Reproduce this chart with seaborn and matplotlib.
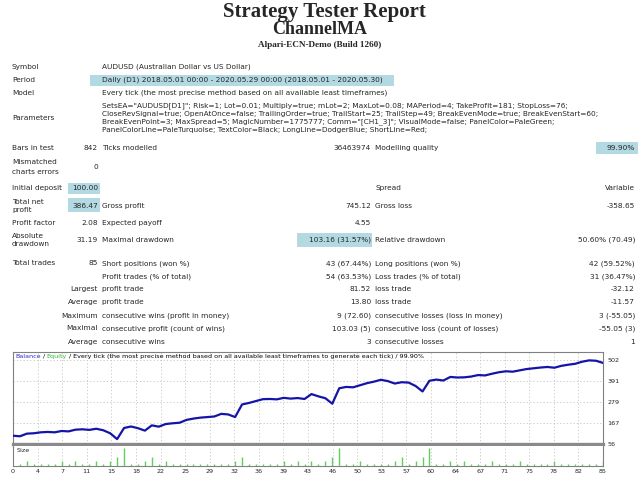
import numpy as np
import matplotlib
matplotlib.use("Agg")
import matplotlib.pyplot as plt
import seaborn as sns
from matplotlib.patches import Rectangle

# balance after each trade, index 0 = initial deposit
balance = [100, 97, 111, 113, 118, 120, 118, 125, 123, 132, 134, 131, 137, 129, 113, 82,
           141, 149, 140, 127, 155, 148, 162, 166, 169, 184, 191, 196, 199, 202, 216, 213,
           199, 266, 274, 284, 294, 295, 293, 301, 297, 300, 295, 321, 309, 299, 270, 352,
           359, 357, 368, 379, 387, 397, 390, 377, 384, 382, 364, 335, 392, 398, 393, 412,
           409, 410, 414, 422, 420, 429, 437, 442, 440, 447, 454, 458, 462, 465, 461, 471,
           477, 482, 493, 500, 498, 486.47]

# lot size of trades 1..85
lots = [0.01, 0.02, 0.01, 0.01, 0.01, 0.01, 0.02, 0.01, 0.02, 0.01,
        0.01, 0.02, 0.01, 0.02, 0.04, 0.08, 0.01, 0.01, 0.02, 0.04,
        0.01, 0.02, 0.01, 0.01, 0.01, 0.01, 0.01, 0.01, 0.01, 0.01,
        0.01, 0.02, 0.04, 0.01, 0.01, 0.01, 0.01, 0.01, 0.02, 0.01,
        0.02, 0.01, 0.02, 0.01, 0.02, 0.04, 0.08, 0.01, 0.01, 0.02,
        0.01, 0.01, 0.01, 0.01, 0.02, 0.04, 0.01, 0.02, 0.04, 0.08,
        0.01, 0.01, 0.02, 0.01, 0.02, 0.01, 0.01, 0.01, 0.02, 0.01,
        0.01, 0.01, 0.02, 0.01, 0.01, 0.01, 0.01, 0.02, 0.01, 0.01,
        0.01, 0.01, 0.01, 0.01, 0.02]

x_labels = ["0", "4", "7", "11", "15", "18", "22", "25", "29", "32", "36", "39", "43",
            "46", "50", "53", "57", "60", "64", "67", "71", "75", "78", "82", "85"]
y_labels = ["56", "167", "279", "391", "502"]

params = [
    'SetsEA="AUDUSD[D1]"; Risk=1; Lot=0.01; Multiply=true; mLot=2; MaxLot=0.08; MAPeriod=4; TakeProfit=181; StopLoss=76;',
    'CloseRevSignal=true; OpenAtOnce=false; TrailingOrder=true; TrailStart=25; TrailStep=49; BreakEvenMode=true; BreakEvenStart=60;',
    'BreakEvenPoint=3; MaxSpread=5; MagicNumber=1775777; Comm="[CH1_3]"; VisualMode=false; PanelColor=PaleGreen;',
    'PanelColorLine=PaleTurquoise; TextColor=Black; LongLine=DodgerBlue; ShortLine=Red;',
]

W, H = 640, 480
sns.set_style("white")
plt.rcParams['font.family'] = ['DejaVu Sans']

fig = plt.figure(figsize=(6.4, 4.8), dpi=100)
fig.patch.set_facecolor("white")

HL = "#b3d9e3"
FS = 5.3


def fx(x):
    return x / W


def fy(y):
    return 1 - y / H


def txt(x, y, s, ha="left", size=FS, **kw):
    fig.text(fx(x), fy(y), s, ha=ha, va="center", fontsize=size, **kw)


def box(x0, y0, x1, y1):
    fig.add_artist(Rectangle((fx(x0), fy(y1)), (x1 - x0) / W, (y1 - y0) / H,
                             transform=fig.transFigure, facecolor=HL, edgecolor="none", zorder=0))


# header
serif = ["Liberation Serif", "DejaVu Serif"]
txt(324, 12, "Strategy Tester Report", ha="center", size=15, family=serif, weight="bold")
txt(320, 30, "ChannelMA", ha="center", size=13, family=serif, weight="bold")
txt(320, 45, "Alpari-ECN-Demo (Build 1260)", ha="center", size=6.6, family=serif, weight="bold")

# highlighted cells
box(90, 75, 394, 86)
box(596, 142, 638, 154)
box(68, 183, 100, 194)
box(68, 198, 100, 212)
box(297, 233, 372, 247)

C0, C1, C2, C3, C4, C5 = 12, 98, 102, 371, 375, 635

txt(C0, 66.7, "Symbol")
txt(C2, 66.7, "AUDUSD (Australian Dollar vs US Dollar)")
txt(C0, 80, "Period")
txt(C2, 80, "Daily (D1) 2018.05.01 00:00 - 2020.05.29 00:00 (2018.05.01 - 2020.05.30)")
txt(C0, 92.7, "Model")
txt(C2, 92.7, "Every tick (the most precise method based on all available least timeframes)")
txt(C0, 118, "Parameters")
for k, line in enumerate(params):
    txt(C2, 105.3 + k * 8.33, line)

txt(C0, 148.3, "Bars in test")
txt(C1, 148.3, "842", ha="right")
txt(C2, 148.3, "Ticks modelled")
txt(C3, 148.3, "36463974", ha="right")
txt(C4, 148.3, "Modelling quality")
txt(C5, 148.3, "99.90%", ha="right")
txt(C0, 162, "Mismatched")
txt(C0, 171.5, "charts errors")
txt(C1, 166.7, "0", ha="right")

txt(C0, 188.3, "Initial deposit")
txt(C1, 188.3, "100.00", ha="right")
txt(C4, 188.3, "Spread")
txt(C5, 188.3, "Variable", ha="right")

txt(C0, 201.7, "Total net")
txt(C0, 210, "profit")
txt(C1, 206, "386.47", ha="right")
txt(C2, 206, "Gross profit")
txt(C3, 206, "745.12", ha="right")
txt(C4, 206, "Gross loss")
txt(C5, 206, "-358.65", ha="right")

txt(C0, 222.7, "Profit factor")
txt(C1, 222.7, "2.08", ha="right")
txt(C2, 222.7, "Expected payoff")
txt(C3, 222.7, "4.55", ha="right")

txt(C0, 235.7, "Absolute")
txt(C0, 244, "drawdown")
txt(C1, 240, "31.19", ha="right")
txt(C2, 240, "Maximal drawdown")
txt(C3, 240, "103.16 (31.57%)", ha="right")
txt(C4, 240, "Relative drawdown")
txt(C5, 240, "50.60% (70.49)", ha="right")

stats = [
    (263.3, "", "Short positions (won %)", "43 (67.44%)", "Long positions (won %)", "42 (59.52%)"),
    (276.7, "", "Profit trades (% of total)", "54 (63.53%)", "Loss trades (% of total)", "31 (36.47%)"),
    (289.3, "Largest", "profit trade", "81.52", "loss trade", "-32.12"),
    (302.3, "Average", "profit trade", "13.80", "loss trade", "-11.57"),
    (315.7, "Maximum", "consecutive wins (profit in money)", "9 (72.60)",
     "consecutive losses (loss in money)", "3 (-55.05)"),
    (328.3, "Maximal", "consecutive profit (count of wins)", "103.03 (5)",
     "consecutive loss (count of losses)", "-55.05 (3)"),
    (341.7, "Average", "consecutive wins", "3", "consecutive losses", "1"),
]
txt(C0, 263.3, "Total trades")
txt(C1, 263.3, "85", ha="right")
for y, a, b, c, d, e in stats:
    if a:
        txt(C1, y, a, ha="right")
    txt(C2, y, b)
    txt(C3, y, c, ha="right")
    txt(C4, y, d)
    txt(C5, y, e, ha="right")

# ---- chart ----
L, R, TOP, SEP, BOT = 13, 603, 352, 444, 466
ax = fig.add_axes([fx(L), fy(SEP), (R - L) / W, (SEP - TOP) / H])
axs = fig.add_axes([fx(L), fy(BOT), (R - L) / W, (BOT - SEP - 2) / H])

trades = np.arange(len(balance))
xt = np.linspace(0, 85, len(x_labels))
yt = np.linspace(56, 502, len(y_labels))

sns.lineplot(x=trades, y=balance, ax=ax, color="#1414a8", linewidth=1.6, zorder=3)
ax.set_xlim(0, 85)
ax.set_ylim(56, 502 + 8 * 446 / 84)
ax.set_xticks(xt)
ax.set_xticklabels([])
ax.set_yticks(yt)
ax.set_yticklabels(y_labels, fontsize=4.6)
ax.yaxis.tick_right()
ax.tick_params(length=0, pad=3)
ax.grid(True, color="#c4c4c4", linestyle=(0, (1.5, 2.5)), linewidth=0.6)
for s in ["left", "top", "right"]:
    ax.spines[s].set_color("#808080")
    ax.spines[s].set_linewidth(0.8)
ax.spines["bottom"].set_color("#8a8a8a")
ax.spines["bottom"].set_linewidth(2.4)
ax.set_xlabel("")
ax.set_ylabel("")

axs.vlines(trades[1:], 0, lots, color="#5ccf5c", linewidth=1.0, zorder=3)
axs.set_xlim(0, 85)
axs.set_ylim(0, 0.0865)
axs.set_xticks(xt)
axs.set_xticklabels(x_labels, fontsize=4.6)
axs.set_yticks([])
axs.tick_params(length=0, pad=2)
axs.grid(True, axis="x", color="#c4c4c4", linestyle=(0, (1.5, 2.5)), linewidth=0.6)
axs.spines["top"].set_visible(False)
for s in ["left", "right", "bottom"]:
    axs.spines[s].set_color("#808080")
    axs.spines[s].set_linewidth(0.8)
axs.text(0.006, 0.78, "Size", transform=axs.transAxes, fontsize=4.6, va="center")

# legend-like header inside the chart
fig.canvas.draw()
rend = fig.canvas.get_renderer()
parts = [("Balance", "#2a2ad0"), (" / ", "black"), ("Equity", "#2fbf2f"),
         (" / Every tick (the most precise method based on all available least timeframes"
          " to generate each tick) / 99.90%", "black")]
xpos = 15
for s, c in parts:
    t = fig.text(fx(xpos), fy(356.5), s, fontsize=4.6, color=c, va="center", ha="left")
    xpos += t.get_window_extent(rend).width

fig.savefig("out.png", dpi=100)
